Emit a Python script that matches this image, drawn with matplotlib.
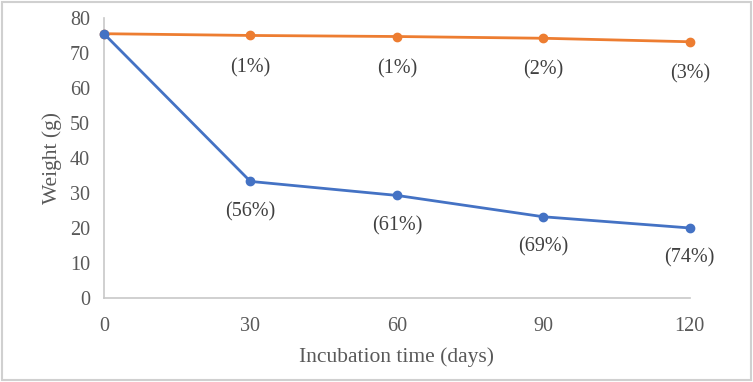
import matplotlib.pyplot as plt
from matplotlib.patches import Rectangle

days = [0, 30, 60, 90, 120]
control = [75.5, 75.0, 74.7, 74.2, 73.2]
incubated = [75.5, 33.3, 29.3, 23.2, 20.0]
control_labels = ["", "(1%)", "(1%)", "(2%)", "(3%)"]
incubated_labels = ["", "(56%)", "(61%)", "(69%)", "(74%)"]

plt.rcParams['font.family'] = ['Liberation Serif', 'DejaVu Serif']

fig = plt.figure(figsize=(7.53, 3.82), dpi=100)
ax = fig.add_axes([0.138, 0.22, 0.778, 0.733])

orange = "#ED7D31"
blue = "#4472C4"

ax.plot(days, control, color=orange, lw=2, marker="o", ms=6, clip_on=False, zorder=3)
ax.plot(days, incubated, color=blue, lw=2, marker="o", ms=6, clip_on=False, zorder=3)

for x, y, t in zip(days, control, control_labels):
    if t:
        ax.annotate(t, (x, y), xytext=(0, -32), textcoords="offset pixels",
                    ha="center", va="center", fontsize=14.5, color="#404040")
for x, y, t in zip(days, incubated, incubated_labels):
    if t:
        ax.annotate(t, (x, y), xytext=(0, -30), textcoords="offset pixels",
                    ha="center", va="center", fontsize=14.5, color="#404040")

ax.set_xlim(0, 120)
ax.set_ylim(0, 80)
ax.set_xticks(days)
ax.set_yticks(range(0, 81, 10))
ax.tick_params(length=0, labelsize=14.5, labelcolor="#595959")
ax.tick_params(axis="x", pad=14)
ax.tick_params(axis="y", pad=10)

for s in ["top", "right"]:
    ax.spines[s].set_visible(False)
for s in ["left", "bottom"]:
    ax.spines[s].set_color("#c8c8c8")
    ax.spines[s].set_linewidth(1.2)

ax.set_xlabel("Incubation time (days)", fontsize=15.5, color="#595959", labelpad=8)
ax.set_ylabel("Weight (g)", fontsize=15.5, color="#595959", labelpad=6)

fig.patches.append(Rectangle((0.003, 0.004), 0.994, 0.992, transform=fig.transFigure,
                             fill=False, edgecolor="#d0d0d0", lw=1.5))

fig.savefig("out.png", dpi=100)
